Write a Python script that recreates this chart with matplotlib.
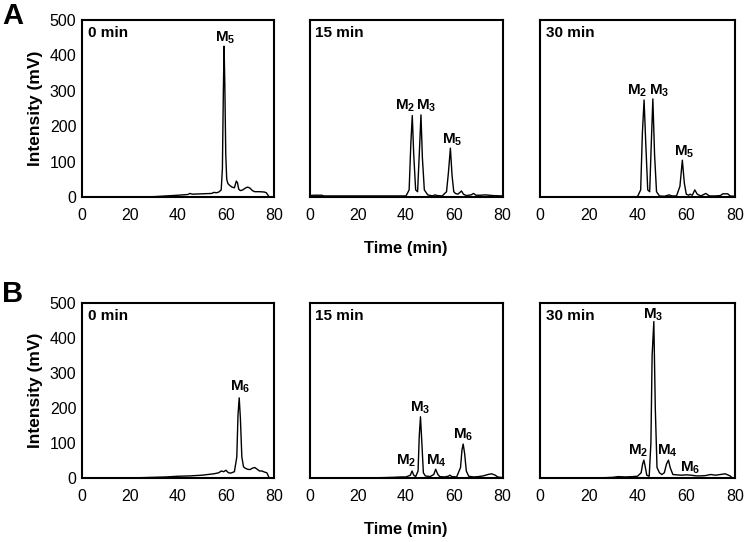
import matplotlib
matplotlib.use('Agg')
from matplotlib import pyplot as plt

plt.rcParams['font.family'] = ['Liberation Sans', 'DejaVu Sans']
plt.rcParams['mathtext.fontset'] = 'custom'
plt.rcParams['mathtext.rm'] = 'Liberation Sans:bold'
plt.rcParams['mathtext.bf'] = 'Liberation Sans:bold'
plt.rcParams['mathtext.it'] = 'Liberation Sans:bold'

# ---------------- data ----------------
# A, 0 min
a0_t = [0, 10, 20, 30, 35, 40, 44, 45, 46, 50, 54, 55, 56, 57, 58.0, 58.5, 58.9, 59.2, 59.5, 59.9,
        60.3, 60.8, 61.5, 62.5, 63.5, 64.3, 64.8, 65.3, 66.0, 67.0, 68.0, 69.0, 70.0, 71.0, 72.0,
        74.0, 76.0, 76.8, 77.5, 78.0]
a0_i = [0, 0, 0, 1, 3, 5, 7, 10, 8, 9, 10, 13, 12, 14, 20, 80, 300, 426, 320, 120,
        50, 38, 33, 28, 26, 45, 40, 22, 18, 20, 25, 28, 25, 18, 15,
        15, 14, 12, 5, 0]
# A, 15 min
a15_t = [0, 2, 5, 6, 10, 20, 30, 38, 40, 41.3, 42.0, 42.6, 43.2, 44.0, 44.8, 45.5, 46.2, 46.8, 47.6,
         49, 51, 52, 53, 55, 56.8, 57.6, 58.4, 59.1, 59.8, 60.5, 61.5, 62.2, 63.0, 63.8, 65, 67, 68,
         69, 71, 73, 76, 80]
a15_i = [4, 5, 5, 3, 3, 3, 3, 3, 3, 20, 150, 230, 120, 20, 15, 120, 232, 110, 20,
         6, 3, 6, 4, 3, 15, 70, 138, 60, 15, 10, 8, 12, 17, 8, 4, 6, 10,
         5, 5, 6, 4, 3]
# A, 30 min
a30_t = [0, 10, 20, 30, 36, 38, 40, 41.3, 42.0, 42.7, 43.4, 44.2, 45.0, 45.6, 46.3, 47.0, 47.8, 49,
         51, 53, 54, 56, 57.4, 58.4, 59.2, 60.0, 61.0, 61.6, 62.5, 63.5, 64.5, 66, 68, 69.5, 72, 74,
         75, 77, 78, 80]
a30_i = [0, 0, 0, 0, 0, 1, 1, 20, 180, 274, 150, 20, 15, 140, 277, 120, 15, 3,
         2, 6, 3, 3, 30, 104, 40, 8, 5, 8, 5, 20, 8, 3, 10, 3, 3, 4,
         9, 9, 3, 2]
# B, 0 min
b0_t = [0, 10, 20, 25, 30, 35, 40, 45, 50, 55, 57, 58, 59, 60, 61, 62, 63.5, 64.5, 65.0, 65.5, 66.0,
        66.6, 67.3, 68, 69, 70, 71, 72, 73, 74, 75, 76, 77, 77.5, 78]
b0_i = [0, 0, 0, 1, 2, 3, 5, 6, 8, 12, 15, 20, 18, 22, 15, 14, 18, 60, 180, 229, 170,
        60, 32, 28, 25, 24, 28, 30, 25, 20, 20, 17, 15, 8, 0]
# B, 15 min
b15_t = [0, 10, 20, 30, 35, 38, 40, 41.8, 42.5, 43.2, 44, 45.0, 45.5, 46.0, 46.5, 47.2, 48, 50, 51.5,
         52.3, 53.2, 54, 56, 57.5, 58.2, 59, 61, 62.6, 63.2, 63.7, 64.3, 65.0, 66, 68, 70, 72, 74,
         75.5, 77, 78, 80]
b15_i = [0, 0, 0, 1, 2, 3, 3, 8, 20, 8, 4, 20, 120, 175, 110, 15, 6, 4, 10,
         25, 10, 4, 3, 5, 8, 4, 3, 30, 80, 97, 70, 20, 5, 3, 4, 6, 10,
         12, 8, 3, 1]
# B, 30 min
b30_t = [0, 10, 20, 27, 30, 32, 35, 38, 40, 41.5, 42.1, 42.6, 43.1, 43.8, 44.8, 45.5, 46.0, 46.7,
         47.3, 48.0, 49, 50, 51, 51.9, 52.7, 53.4, 54.5, 56, 58, 60, 62, 64, 66, 68, 70, 72, 74,
         76, 78, 79]
b30_i = [0, 0, 0, 1, 2, 4, 3, 4, 5, 15, 40, 51, 35, 8, 5, 100, 350, 447,
         200, 30, 15, 10, 15, 40, 51, 30, 10, 9, 8, 9, 8, 6, 6, 7, 10, 8, 10,
         12, 6, 0]

times = ['0 min', '15 min', '30 min']
traces = [[(a0_t, a0_i), (a15_t, a15_i), (a30_t, a30_i)],
          [(b0_t, b0_i), (b15_t, b15_i), (b30_t, b30_i)]]

# peak labels: (text, time, intensity)
peak_labels = [
    [[('M$_5$', 59.6, 440)],
     [('M$_2$', 39.6, 246), ('M$_3$', 48.5, 246), ('M$_5$', 59.0, 152)],
     [('M$_2$', 39.8, 288), ('M$_3$', 48.8, 288), ('M$_5$', 59.3, 118)]],
    [[('M$_6$', 66.1, 249)],
     [('M$_2$', 40.0, 39), ('M$_3$', 45.7, 189), ('M$_4$', 52.7, 39), ('M$_6$', 63.7, 113)],
     [('M$_2$', 40.3, 66), ('M$_3$', 46.3, 455), ('M$_4$', 52.4, 66), ('M$_6$', 61.7, 18)]],
]

W, H = 745.0, 542.0
f = plt.figure(figsize=(7.45, 5.42), dpi=100)

col_px = [(82, 192), (309.5, 193), (540, 195)]
row_px = [(20, 197), (303, 478)]

for r in range(2):
    for c in range(3):
        x0, w = col_px[c]
        top, bot = row_px[r]
        ax = f.add_axes([x0 / W, 1 - bot / H, w / W, (bot - top) / H])
        t, y = traces[r][c]
        ax.plot(t, y, color='black', lw=1.0)
        ax.set_xlim(0, 80)
        ax.set_ylim(0, 500)
        ax.set_xticks([0, 20, 40, 60, 80])
        ax.set_yticks([0, 100, 200, 300, 400, 500])
        ax.tick_params(length=0, labelsize=11.5)
        ax.tick_params(axis='x', pad=8)
        ax.tick_params(axis='y', pad=4)
        for s in ax.spines.values():
            s.set_linewidth(1.5)
        if c > 0:
            ax.set_yticklabels([])
        else:
            ax.set_ylabel('Intensity (mV)', fontsize=12.5, fontweight='bold', labelpad=5)
        ax.text(0.03, 0.965, times[c], transform=ax.transAxes, ha='left', va='top',
                fontsize=11, fontweight='bold')
        for txt, px, py in peak_labels[r][c]:
            ax.text(px, py, txt, ha='center', va='baseline', fontsize=11, fontweight='bold')
        if c == 1:
            ax.set_xlabel('Time (min)', fontsize=12, fontweight='bold', labelpad=13)

f.text(2 / W, 1 - 2 / H, 'A', fontsize=21, fontweight='bold', ha='left', va='top')
f.text(2 / W, 1 - 280 / H, 'B', fontsize=21, fontweight='bold', ha='left', va='top')

f.savefig('out.png', dpi=100)
